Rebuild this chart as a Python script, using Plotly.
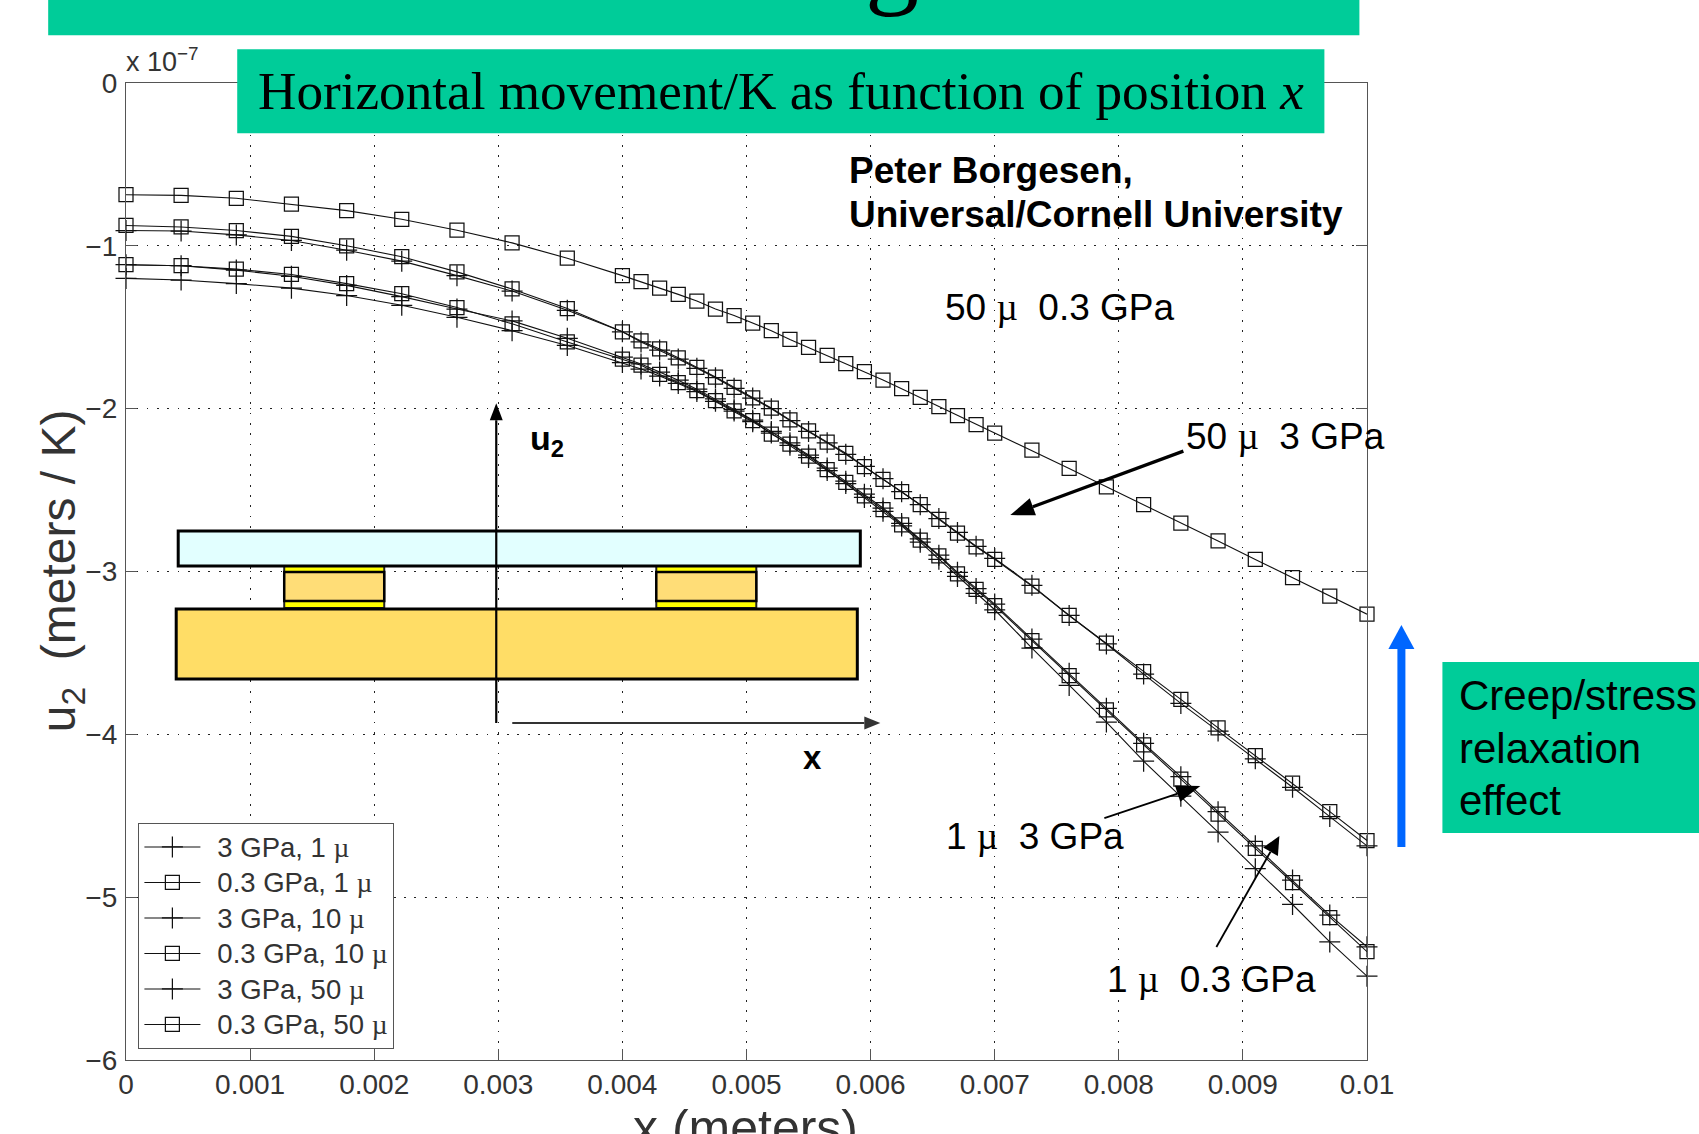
import plotly.graph_objects as go

x_m = [0, 0.000444, 0.000889, 0.001333, 0.001778, 0.002222, 0.002667, 0.003111, 0.003556, 0.004,
       0.00415, 0.0043, 0.00445, 0.0046, 0.00475, 0.0049, 0.00505, 0.0052, 0.00535, 0.0055,
       0.00565, 0.0058, 0.00595, 0.0061, 0.00625, 0.0064, 0.00655, 0.0067, 0.00685, 0.007,
       0.0073, 0.0076, 0.0079, 0.0082, 0.0085, 0.0088, 0.0091, 0.0094, 0.0097, 0.01]

gpa3_1u = [-1.2, -1.21, -1.232, -1.26, -1.305, -1.365, -1.439, -1.521, -1.612, -1.717,
           -1.757, -1.80, -1.845, -1.895, -1.955, -2.015, -2.08, -2.15, -2.225, -2.30,
           -2.38, -2.46, -2.545, -2.63, -2.72, -2.82, -2.925, -3.03, -3.135, -3.235,
           -3.47, -3.70, -3.925, -4.165, -4.38, -4.60, -4.825, -5.045, -5.275, -5.485]
gpa03_1u = [-1.116, -1.122, -1.143, -1.176, -1.232, -1.294, -1.379, -1.479, -1.59, -1.695,
            -1.733, -1.79, -1.84, -1.889, -1.951, -2.013, -2.073, -2.156, -2.218, -2.292,
            -2.374, -2.452, -2.535, -2.62, -2.713, -2.808, -2.904, -3.015, -3.11, -3.21,
            -3.425, -3.64, -3.85, -4.065, -4.275, -4.49, -4.70, -4.91, -5.125, -5.335]
gpa3_10u = [-1.116, -1.122, -1.149, -1.187, -1.243, -1.312, -1.388, -1.461, -1.568, -1.684,
            -1.725, -1.775, -1.825, -1.88, -1.94, -2.005, -2.07, -2.14, -2.21, -2.285,
            -2.365, -2.445, -2.525, -2.61, -2.705, -2.80, -2.90, -3.005, -3.105, -3.20,
            -3.415, -3.625, -3.84, -4.055, -4.26, -4.475, -4.685, -4.895, -5.11, -5.305]
gpa03_10u = [-0.875, -0.884, -0.906, -0.942, -1.0, -1.067, -1.16, -1.265, -1.385, -1.528,
             -1.584, -1.633, -1.688, -1.746, -1.806, -1.869, -1.933, -1.996, -2.069, -2.136,
             -2.205, -2.274, -2.356, -2.434, -2.51, -2.59, -2.68, -2.764, -2.848, -2.925,
             -3.09, -3.27, -3.44, -3.615, -3.785, -3.96, -4.13, -4.30, -4.475, -4.652]
gpa3_50u = [-0.906, -0.909, -0.933, -0.967, -1.027, -1.094, -1.183, -1.278, -1.396, -1.528,
            -1.59, -1.64, -1.695, -1.752, -1.81, -1.875, -1.935, -2.0, -2.073, -2.14,
            -2.21, -2.28, -2.355, -2.43, -2.51, -2.59, -2.675, -2.76, -2.845, -2.92,
            -3.085, -3.27, -3.445, -3.63, -3.81, -3.98, -4.15, -4.325, -4.505, -4.685]
gpa03_50u = [-0.686, -0.69, -0.708, -0.744, -0.784, -0.837, -0.904, -0.982, -1.076, -1.183,
             -1.22, -1.26, -1.298, -1.339, -1.388, -1.428, -1.474, -1.521, -1.575, -1.624,
             -1.673, -1.724, -1.773, -1.824, -1.877, -1.931, -1.987, -2.042, -2.098, -2.15,
             -2.255, -2.367, -2.48, -2.59, -2.703, -2.812, -2.926, -3.037, -3.151, -3.262]

MU = '<span style="font-family:Liberation Serif">µ</span>'
names = ["3 GPa, 1 ", "0.3 GPa, 1 ", "3 GPa, 10 ", "0.3 GPa, 10 ", "3 GPa, 50 ", "0.3 GPa, 50 "]
series = [gpa3_1u, gpa03_1u, gpa3_10u, gpa03_10u, gpa3_50u, gpa03_50u]
x_ticks = [0, 0.001, 0.002, 0.003, 0.004, 0.005, 0.006, 0.007, 0.008, 0.009, 0.01]
x_labels = ["0", "0.001", "0.002", "0.003", "0.004", "0.005", "0.006", "0.007", "0.008", "0.009", "0.01"]
y_ticks = [0, -1, -2, -3, -4, -5, -6]

W, H = 1699, 1134
L, R, T, B = 125.8, 1366.6, 82.8, 1060.0
INK = "#111111"
AXIS = "#555555"
TEAL = "#00CC99"
LABEL = "#333333"


def px(x):
    return (x - L) / (R - L)


def py(y):
    return (B - y) / (B - T)


fig = go.Figure()
for i, (name, vals) in enumerate(zip(names, series)):
    is_cross = i % 2 == 0
    legend_name = f'\u00a0\u2009<span style="font-size:27.5px">{name}{MU}</span>'
    fig.add_trace(go.Scatter(
        x=x_m, y=vals, name=legend_name, mode="lines+markers", cliponaxis=False,
        line=dict(color=INK, width=1.1),
        marker=dict(symbol="cross-thin" if is_cross else "square-open",
                    size=15 if is_cross else 14, color=INK,
                    line=dict(color=INK, width=1.25)),
    ))

shapes = []


def rect(x0, y0, x1, y1, fill, lw=3, line="black"):
    shapes.append(dict(type="rect", xref="paper", yref="paper", layer="above",
                       x0=px(x0), x1=px(x1), y0=py(y0), y1=py(y1), fillcolor=fill,
                       line=dict(color=line, width=lw)))


def seg(x0, y0, x1, y1, color="black", lw=3):
    shapes.append(dict(type="line", xref="paper", yref="paper", layer="above",
                       x0=px(x0), x1=px(x1), y0=py(y0), y1=py(y1),
                       line=dict(color=color, width=lw)))


def arrow(x0, y0, x1, y1, lw=2, color="black", hl=20, hw=16):
    d = ((x1 - x0) ** 2 + (y1 - y0) ** 2) ** 0.5
    ux, uy = (x1 - x0) / d, (y1 - y0) / d
    bx, by = x1 - ux * hl, y1 - uy * hl
    seg(x0, y0, bx, by, color, lw)
    pts = [(x1, y1), (bx - uy * hw / 2, by + ux * hw / 2), (bx + uy * hw / 2, by - ux * hw / 2)]
    path = "M " + " L ".join(f"{px(a):.5f} {py(b):.5f}" for a, b in pts) + " Z"
    shapes.append(dict(type="path", xref="paper", yref="paper", layer="above", path=path,
                       fillcolor=color, line=dict(color=color, width=0)))


# teal banners
rect(48, -5, 1359, 35, TEAL, 0, TEAL)
rect(237, 49, 1324, 133, TEAL, 0, TEAL)
rect(1442, 662, 1710, 833, TEAL, 0, TEAL)
# inset diagram
for bx0, bx1 in ((284, 384), (656, 756)):
    rect(bx0, 562, bx1, 608, "#FFFF00", 2, "#222222")
    rect(bx0, 572, bx1, 601, "#FFDD77", 2.5)
rect(178, 531, 860, 566, "#E2FFFF")
rect(176, 609, 857, 679, "#FFDD66")

anns = []


def text(x, y, s, size, font="Liberation Sans", anchor="left", color="black", bold=False, yanchor="middle", angle=0):
    if bold:
        s = f"<b>{s}</b>"
    anns.append(dict(x=px(x), y=py(y), xref="paper", yref="paper", text=s, showarrow=False,
                     xanchor=anchor, yanchor=yanchor, align="left", textangle=angle,
                     font=dict(family=font, size=size, color=color)))


text(892, 19, "g", 108, "Liberation Serif", "center", yanchor="bottom")
text(256, 91, "Horizontal movement/K as function of position <i>x</i>", 53.2, "Liberation Serif")
text(847, 170, "Peter Borgesen,", 37, bold=True)
text(847, 214, "Universal/Cornell University", 37, bold=True)
text(943, 307, f"50 {MU}  0.3 GPa", 37)
text(1184, 436, f"50 {MU}  3 GPa", 37)
text(944, 836, f"1 {MU}  3 GPa", 37)
text(1105, 979, f"1 {MU}  0.3 GPa", 37)
text(1457, 695, "Creep/stress", 42)
text(1457, 748, "relaxation", 42)
text(1457, 800, "effect", 42)
text(528, 440, "u<sub>2</sub>", 34, bold=True)
text(801, 757, "x", 33, bold=True)
text(124, 60, "x 10<sup>−7</sup>", 27, color=LABEL)
text(62, 571, "u<sub>2</sub>  (meters / K)", 48, anchor="center", color=LABEL, angle=-90)
text(745, 1128, "x (meters)", 50, anchor="center", color=LABEL)

arrow(1183, 451, 1010, 515, 3.2, hl=24, hw=18)
arrow(1104, 818, 1200, 786, 1.8, hl=24, hw=17)
arrow(1216, 947, 1279, 836, 1.8, hl=18, hw=17)
arrow(496, 723, 496, 403, 2.2, hl=17, hw=13)
arrow(512, 723, 880, 723, 2, "#333333", hl=16, hw=13)
arrow(1401, 847, 1401, 625, 8, "#0066FF", hl=24, hw=26)

fig.update_layout(
    width=W, height=H, margin=dict(l=L, r=W - R, t=T, b=H - B, autoexpand=False),
    paper_bgcolor="white", plot_bgcolor="white",
    font=dict(family="Liberation Sans", color=LABEL),
    showlegend=True,
    legend=dict(x=px(138), y=py(823), xanchor="left", yanchor="top", bgcolor="white",
                bordercolor=AXIS, borderwidth=1.2, itemwidth=56, tracegroupgap=0,
                entrywidth=205, entrywidthmode="pixels",
                font=dict(size=25, color=LABEL), itemclick=False),
    shapes=shapes, annotations=anns,
)
axis = dict(showline=True, linecolor=AXIS, linewidth=1.3, mirror="ticks", ticks="inside",
            ticklen=11, tickwidth=1.2, tickcolor=AXIS, showgrid=True, gridcolor="#222222",
            griddash="1.8px,8.5px", gridwidth=1.2, zeroline=False,
            tickfont=dict(size=28, color=LABEL))
fig.update_xaxes(range=[0, 0.01], tickmode="array", tickvals=x_ticks, ticktext=x_labels, ticklabelstandoff=-1, **axis)
fig.update_yaxes(range=[-6, 0], tickmode="array", tickvals=y_ticks, ticklabelstandoff=2, **axis)

fig.write_html("out.html", config={"displayModeBar": False},
               post_script="document.body.style.margin='0';document.documentElement.style.overflow='hidden';")
